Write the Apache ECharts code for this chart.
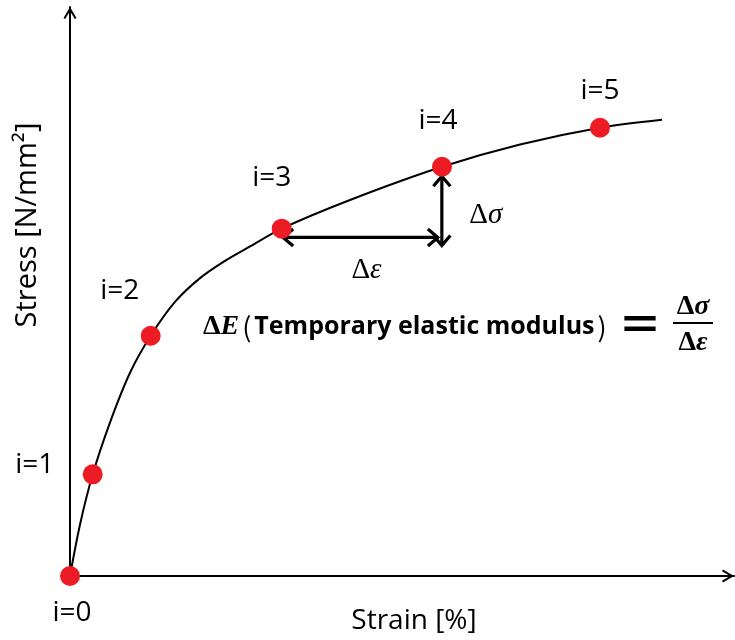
<!DOCTYPE html>
<html>
<head>
<meta charset="utf-8">
<script src="https://cdn.jsdelivr.net/npm/echarts@6/dist/echarts.min.js"></script>
<style>
  html, body { margin: 0; padding: 0; background: #fff; overflow: hidden; width: 735px; height: 640px; }
  #chart { position: absolute; left: 0; top: 0; width: 735px; height: 640px; }
</style>
</head>
<body>
<div id="chart"></div>
<script>
// Sampled stress–strain curve (strain in %, stress in N/mm²)
const curveStrain = [0, 0.151, 0.342, 0.602, 0.904, 1.215, 1.581, 1.958, 2.334, 2.711, 3.188, 4.217, 5.602, 6.777, 7.982, 8.916];
const curveStress = [0, 54.3, 107.2, 161.8, 214.3, 253.3, 289.0, 314.1, 332.3, 347.5, 366.3, 396.5, 431.5, 455.0, 472.7, 481.0];

// Evaluation points along the curve
const pointLabels = ['i=0', 'i=1', 'i=2', 'i=3', 'i=4', 'i=5'];
const pointStrain = [0, 0.342, 1.215, 3.188, 5.602, 7.982];
const pointStress = [0, 107.2, 253.3, 366.3, 431.5, 472.7];

// Increments between i=3 and i=4 (start / end of each double arrow)
const deltaLabels = ['ε', 'σ'];
const deltaFromStrain = [3.21, 5.60];
const deltaFromStress = [357.0, 421.5];
const deltaToStrain = [5.54, 5.60];
const deltaToStress = [357.0, 348.5];

// Label placement relative to each mark (pixels)
const pointLabelOffsets = [[2, 37], [-58, -9], [-31, -45], [-10, -51], [-4, -46], [0, -37]];
const deltaLabelOffsets = [[6, 33], [44, 4]];

// Open chevron used as the axis arrowhead (drawn pointing up, filled outline)
const chevron = 'path://M6.5,0 L13,11 L11.3,12 L6.5,3.9 L1.7,12 L0,11 Z';

const chart = echarts.init(document.getElementById('chart'), null, { renderer: 'canvas', width: 735, height: 640 });

const curveData = curveStrain.map((x, i) => [x, curveStress[i]]);
const pointData = pointStrain.map((x, i) => ({
  value: [x, pointStress[i]],
  label: { offset: pointLabelOffsets[i], formatter: pointLabels[i] }
}));
const deltaData = deltaLabels.map((_, i) => [deltaFromStrain[i], deltaFromStress[i], deltaToStrain[i], deltaToStress[i]]);

const axisCommon = {
  type: 'value',
  axisLine: {
    show: true,
    onZero: false,
    symbol: ['none', chevron],
    symbolSize: [13, 12],
    symbolOffset: [0, -6],
    lineStyle: { color: '#000', width: 2 }
  },
  axisTick: { show: false },
  axisLabel: { show: false },
  splitLine: { show: false },
  nameLocation: 'middle',
  nameTextStyle: { fontFamily: 'Open Sans', fontSize: 28, color: '#000' }
};

function renderDeltaArrow(params, api) {
  const p1 = api.coord([api.value(0), api.value(1)]);
  const p2 = api.coord([api.value(2), api.value(3)]);
  const dx = p2[0] - p1[0], dy = p2[1] - p1[1];
  const len = Math.hypot(dx, dy);
  const ux = dx / len, uy = dy / len, nx = -uy, ny = ux;
  const L = 10, W = 8.5;
  const head = (tip, s) => [
    [tip[0] - s * ux * L + nx * W, tip[1] - s * uy * L + ny * W],
    tip,
    [tip[0] - s * ux * L - nx * W, tip[1] - s * uy * L - ny * W]
  ];
  const stroke = { stroke: '#000', lineWidth: 3.2, fill: 'none', lineJoin: 'miter', lineCap: 'butt' };
  const off = deltaLabelOffsets[params.dataIndex];
  return {
    type: 'group',
    children: [
      { type: 'line', shape: { x1: p1[0], y1: p1[1], x2: p2[0], y2: p2[1] }, style: stroke },
      { type: 'polyline', shape: { points: head(p1, -1) }, style: stroke },
      { type: 'polyline', shape: { points: head(p2, 1) }, style: stroke },
      {
        type: 'text',
        x: (p1[0] + p2[0]) / 2 + off[0],
        y: (p1[1] + p2[1]) / 2 + off[1],
        style: {
          text: '{d|Δ}{g|' + deltaLabels[params.dataIndex] + '}',
          align: 'center',
          verticalAlign: 'middle',
          rich: {
            d: { fontFamily: 'Liberation Serif', fontSize: 29, fill: '#000' },
            g: { fontFamily: 'Liberation Serif', fontStyle: 'italic', fontSize: 29, fill: '#000' }
          }
        }
      }
    ]
  };
}

const mathBold = { fontFamily: 'Liberation Serif', fontWeight: 'bold', fontSize: 28, fill: '#000' };
const mathBoldItalic = Object.assign({}, mathBold, { fontStyle: 'italic' });

const option = {
  backgroundColor: '#fff',
  animation: false,
  grid: { left: 70, top: 7, width: 664, height: 575, containLabel: false },
  xAxis: Object.assign({}, axisCommon, {
    min: 0, max: 10,
    name: 'Strain [%]',
    nameGap: 31,
    nameTextStyle: Object.assign({}, axisCommon.nameTextStyle, { padding: [0, 0, 0, 24] })
  }),
  yAxis: Object.assign({}, axisCommon, {
    min: 0, max: 600,
    name: 'Stress [N/mm²]',
    nameGap: 28,
    nameTextStyle: Object.assign({}, axisCommon.nameTextStyle, { fontSize: 29, padding: [0, 0, 0, 133] })
  }),
  series: [
    {
      type: 'line',
      data: curveData,
      smooth: 0.3,
      showSymbol: false,
      lineStyle: { color: '#000', width: 2 },
      z: 2
    },
    {
      type: 'custom',
      renderItem: renderDeltaArrow,
      data: deltaData,
      encode: { x: [0, 2], y: [1, 3] },
      z: 3
    },
    {
      type: 'scatter',
      data: pointData,
      symbolSize: 20,
      itemStyle: { color: '#ED1C24', opacity: 1 },
      label: {
        show: true,
        position: 'inside',
        fontFamily: 'Open Sans',
        fontSize: 28,
        color: '#000'
      },
      z: 4
    }
  ],
  graphic: [
    {
      type: 'text',
      x: 203,
      y: 327,
      style: {
        text: '{d|Δ}{e|E}{p|(}{t|Temporary elastic modulus}{p|)}',
        verticalAlign: 'middle',
        rich: {
          d: mathBold,
          e: mathBoldItalic,
          p: { fontFamily: 'Noto Sans CJK JP', fontSize: 27, fill: '#000', padding: [0, 3, 0, 3] },
          t: { fontFamily: 'Open Sans', fontWeight: 'bold', fontSize: 25, fill: '#000' }
        }
      }
    },
    {
      type: 'text',
      x: 640,
      y: 324,
      style: {
        text: '＝', align: 'center', verticalAlign: 'middle',
        fontFamily: 'Noto Sans CJK JP', fontWeight: 'bold', fontSize: 44, fill: '#000'
      }
    },
    {
      type: 'group',
      x: 673,
      y: 293,
      children: [
        { type: 'text', x: 20, y: 0, style: { text: '{d|Δ}{g|σ}', align: 'center', rich: { d: mathBold, g: mathBoldItalic } } },
        { type: 'line', shape: { x1: 0, y1: 30, x2: 40, y2: 30 }, style: { stroke: '#000', lineWidth: 2 } },
        { type: 'text', x: 20, y: 36, style: { text: '{d|Δ}{g|ε}', align: 'center', rich: { d: mathBold, g: mathBoldItalic } } }
      ]
    }
  ]
};

chart.setOption(option);
</script>
</body>
</html>
